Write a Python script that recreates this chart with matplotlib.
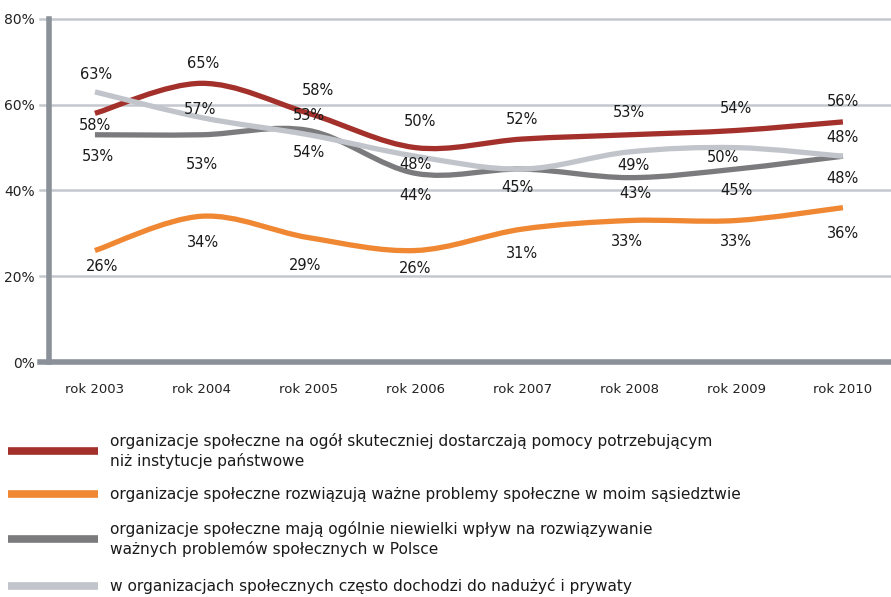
import numpy as np
import matplotlib.pyplot as plt
from matplotlib.path import Path
from matplotlib.patches import PathPatch
from matplotlib.lines import Line2D

years = ['rok 2003', 'rok 2004', 'rok 2005', 'rok 2006',
         'rok 2007', 'rok 2008', 'rok 2009', 'rok 2010']
skuteczniej = [58, 65, 58, 50, 52, 53, 54, 56]
rozwiazuja = [26, 34, 29, 26, 31, 33, 33, 36]
niewielki_wplyw = [53, 53, 54, 44, 45, 43, 45, 48]
naduzycia = [63, 57, 53, 48, 45, 49, 50, 48]
y_ticks = [0, 20, 40, 60, 80]

legend_texts = [
    'organizacje społeczne na ogół skuteczniej dostarczają pomocy potrzebującym\nniż instytucje państwowe',
    'organizacje społeczne rozwiązują ważne problemy społeczne w moim sąsiedztwie',
    'organizacje społeczne mają ogólnie niewielki wpływ na rozwiązywanie\nważnych problemów społecznych w Polsce',
    'w organizacjach społecznych często dochodzi do nadużyć i prywaty',
]

colors = ['#a3302b', '#ef8733', '#7b7b7d', '#c1c5cb']

# label offsets in pixels (dx, dy), None = no label
offsets = [
    [(0, -12), (1, 20), (9, 23), (4, 26), (0, 20), (0, 22), (0, 22), (0, 20)],
    [(7, -16), (1, -26), (-4, -28), (0, -18), (0, -24), (-2, -21), (0, -21), (0, -26)],
    [(3, -22), (0, -30), (0, -22), (0, -22), (-5, -18), (6, -16), (0, -21), (0, -22)],
    [(1, 17), (-2, 8), (0, 19), (0, -8), None, (4, -14), (-13, -10), (0, 19)],
]


def smooth_path(xs, ys):
    pts = np.column_stack([xs, ys]).astype(float)
    n = len(pts)
    verts = [pts[0]]
    codes = [Path.MOVETO]
    for i in range(n - 1):
        p0 = pts[max(i - 1, 0)]
        p1 = pts[i]
        p2 = pts[i + 1]
        p3 = pts[min(i + 2, n - 1)]
        verts += [p1 + (p2 - p0) / 6, p2 - (p3 - p1) / 6, p2]
        codes += [Path.CURVE4] * 3
    return Path(verts, codes)


fig = plt.figure(figsize=(8.91, 5.97), dpi=100)
W, H = 891, 597
ax = fig.add_axes([49 / W, 1 - 362 / H, (891 - 49) / W, (362 - 19) / H])

x = np.arange(len(years))
series = [skuteczniej, rozwiazuja, niewielki_wplyw, naduzycia]

ax.set_xlim(-0.43, 7.45)
ax.set_ylim(0, 80)

for yv in y_ticks[1:]:
    ax.axhline(yv, xmin=-0.011, xmax=1, color='#c4c8ce', lw=1.8, clip_on=False, zorder=1)
ax.axhline(0, xmin=-0.011, xmax=1, color='#8b9199', lw=4, clip_on=False, zorder=3)
ax.axvline(-0.43, color='#8b9199', lw=4, clip_on=False, zorder=3)

for vals, col, offs in zip(series, colors, offsets):
    patch = PathPatch(smooth_path(x, vals), facecolor='none', edgecolor=col,
                      lw=3.8, capstyle='butt', zorder=2)
    ax.add_patch(patch)
    for xi, v, off in zip(x, vals, offs):
        if off is None:
            continue
        ax.annotate(f'{v}%', (xi, v), xytext=off, textcoords='offset pixels',
                    ha='center', va='center', fontsize=10.5, color='#1a1a1a')

for s in ax.spines.values():
    s.set_visible(False)
ax.set_xticks(x)
ax.set_xticklabels(years, fontsize=9.5, color='#222222')
ax.set_yticks(y_ticks)
ax.set_yticklabels([f'{t}%' for t in y_ticks], fontsize=10, color='#222222')
ax.tick_params(axis='x', length=0, pad=15)
ax.tick_params(axis='y', length=0, pad=10)

# legend
leg_y = [451, 494, 539, 586]
for col, txt, yy in zip(colors, legend_texts, leg_y):
    fig.add_artist(Line2D([8 / W, 98 / W], [1 - yy / H] * 2, color=col, lw=5.5,
                          solid_capstyle='butt'))
    fig.text(110 / W, 1 - yy / H, txt, va='center', ha='left', fontsize=11.1,
             color='#1a1a1a', linespacing=1.3)

fig.savefig('out.png', dpi=100)
